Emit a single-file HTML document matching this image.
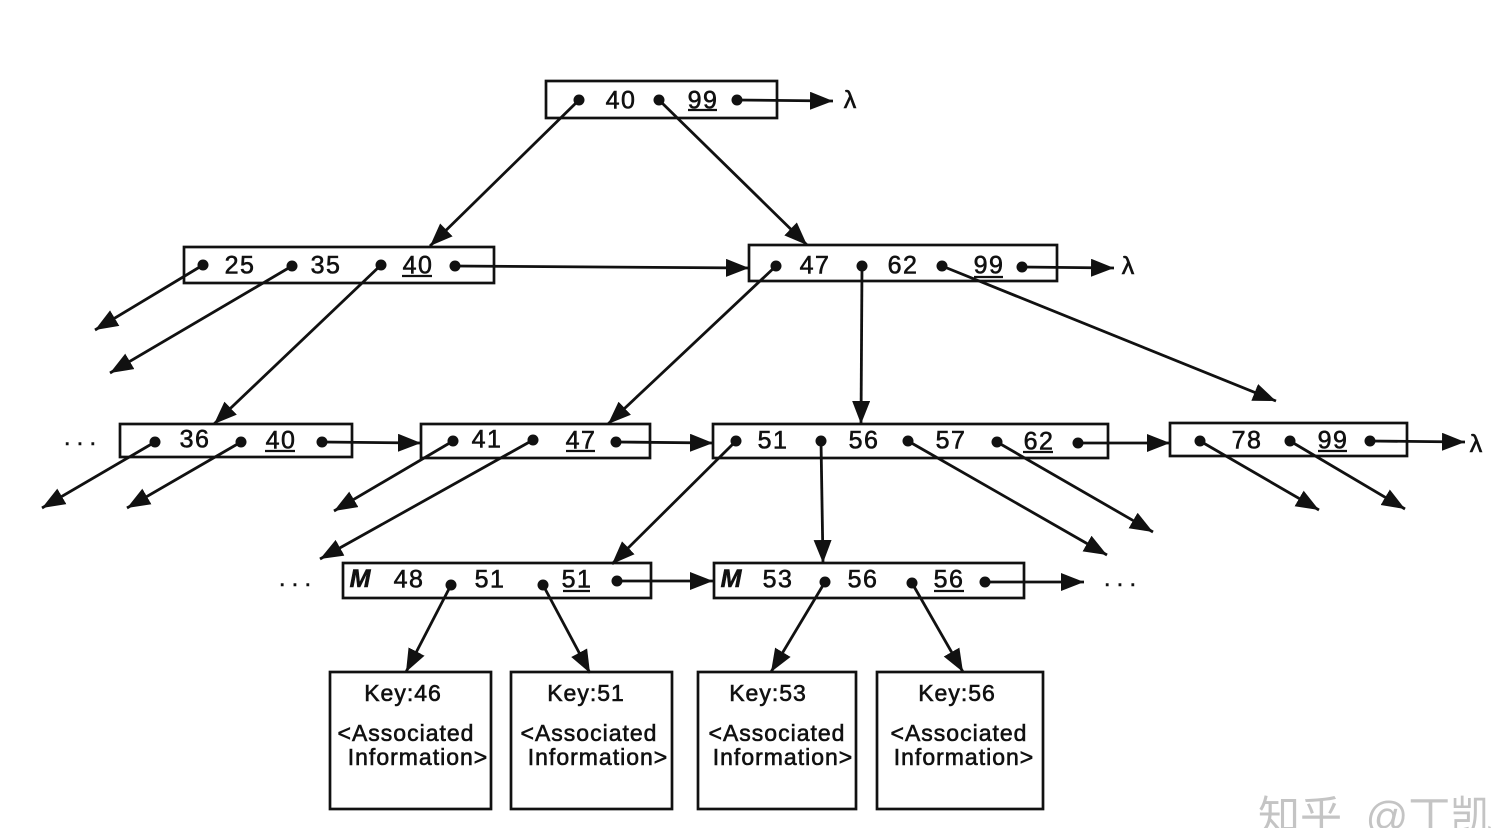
<!DOCTYPE html>
<html><head><meta charset="utf-8"><style>
html,body{margin:0;padding:0;background:#fff}
svg{display:block}
text{font-family:"Liberation Sans","Noto Sans CJK SC",sans-serif;fill:#111;stroke:#111;stroke-width:.6px;font-size:25px;text-anchor:middle;letter-spacing:1.5px}
.k{font-size:23px;letter-spacing:1px}
.m{font-style:italic;font-weight:bold;font-size:25px;letter-spacing:0}
.d{letter-spacing:0}
.b{fill:none;stroke:#111;stroke-width:2.7}
.l{stroke:#111;stroke-width:2.8;fill:none;marker-end:url(#a)}
.u{stroke:#111;stroke-width:2.2}
.w{font-size:42px;fill:#c4c4c4;stroke:none;text-anchor:start;letter-spacing:0;word-spacing:12px}
</style></head><body>
<svg width="1496" height="828" viewBox="0 0 1496 828" xmlns="http://www.w3.org/2000/svg">
<defs>
<marker id="a" markerUnits="userSpaceOnUse" markerWidth="26" markerHeight="20" refX="23" refY="9" orient="auto"><path d="M0 0L23 9L0 18Z" fill="#111"/></marker>
</defs>
<rect class="b" x="546" y="81" width="231" height="37"/>
<rect class="b" x="184" y="247" width="310" height="36"/>
<rect class="b" x="749" y="245" width="308" height="36"/>
<rect class="b" x="120" y="424" width="232" height="33"/>
<rect class="b" x="421" y="424" width="229" height="34"/>
<rect class="b" x="713" y="424" width="395" height="34"/>
<rect class="b" x="1170" y="423" width="237" height="33"/>
<rect class="b" x="343" y="563" width="308" height="35"/>
<rect class="b" x="714" y="563" width="310" height="35"/>
<rect class="b" x="330" y="672" width="161" height="137"/>
<rect class="b" x="511" y="672" width="161" height="137"/>
<rect class="b" x="698" y="672" width="158" height="137"/>
<rect class="b" x="877" y="672" width="166" height="137"/>
<g>
<line class="l" x1="737" y1="100" x2="833" y2="101"/>
<line class="l" x1="579" y1="100" x2="430" y2="246"/>
<line class="l" x1="659" y1="100" x2="807" y2="245"/>
<line class="l" x1="203" y1="265" x2="95" y2="330"/>
<line class="l" x1="292" y1="266" x2="110" y2="373"/>
<line class="l" x1="381" y1="265" x2="214" y2="424"/>
<line class="l" x1="455" y1="266" x2="749" y2="268"/>
<line class="l" x1="776" y1="266" x2="608" y2="424"/>
<line class="l" x1="862" y1="266" x2="861" y2="424"/>
<line class="l" x1="942" y1="266" x2="1276" y2="401"/>
<line class="l" x1="1022" y1="267" x2="1114" y2="268"/>
<line class="l" x1="155" y1="442" x2="42" y2="508"/>
<line class="l" x1="241" y1="442" x2="127" y2="508"/>
<line class="l" x1="322" y1="442" x2="421" y2="443"/>
<line class="l" x1="453" y1="441" x2="334" y2="511"/>
<line class="l" x1="533" y1="440" x2="320" y2="559"/>
<line class="l" x1="616" y1="442" x2="713" y2="443"/>
<line class="l" x1="736" y1="441" x2="612" y2="564"/>
<line class="l" x1="821" y1="441" x2="823" y2="563"/>
<line class="l" x1="908" y1="441" x2="1107" y2="555"/>
<line class="l" x1="997" y1="442" x2="1153" y2="532"/>
<line class="l" x1="1078" y1="443" x2="1170" y2="443"/>
<line class="l" x1="1200" y1="441" x2="1319" y2="510"/>
<line class="l" x1="1290" y1="441" x2="1405" y2="509"/>
<line class="l" x1="1370" y1="441" x2="1465" y2="442"/>
<line class="l" x1="451" y1="585" x2="406" y2="672"/>
<line class="l" x1="543" y1="585" x2="590" y2="673"/>
<line class="l" x1="617" y1="581" x2="713" y2="581"/>
<line class="l" x1="825" y1="582" x2="771" y2="672"/>
<line class="l" x1="912" y1="583" x2="963" y2="672"/>
<line class="l" x1="985" y1="582" x2="1084" y2="582"/>
</g>
<g fill="#111">
<circle cx="579" cy="100" r="5.5"/><circle cx="659" cy="100" r="5.5"/><circle cx="737" cy="100" r="5.5"/>
<circle cx="203" cy="265" r="5.5"/><circle cx="292" cy="266" r="5.5"/><circle cx="381" cy="265" r="5.5"/><circle cx="455" cy="266" r="5.5"/>
<circle cx="776" cy="266" r="5.5"/><circle cx="862" cy="266" r="5.5"/><circle cx="942" cy="266" r="5.5"/><circle cx="1022" cy="267" r="5.5"/>
<circle cx="155" cy="442" r="5.5"/><circle cx="241" cy="442" r="5.5"/><circle cx="322" cy="442" r="5.5"/>
<circle cx="453" cy="441" r="5.5"/><circle cx="533" cy="440" r="5.5"/><circle cx="616" cy="442" r="5.5"/>
<circle cx="736" cy="441" r="5.5"/><circle cx="821" cy="441" r="5.5"/><circle cx="908" cy="441" r="5.5"/><circle cx="997" cy="442" r="5.5"/><circle cx="1078" cy="443" r="5.5"/>
<circle cx="1200" cy="441" r="5.5"/><circle cx="1290" cy="441" r="5.5"/><circle cx="1370" cy="441" r="5.5"/>
<circle cx="451" cy="585" r="5.5"/><circle cx="543" cy="585" r="5.5"/><circle cx="617" cy="581" r="5.5"/>
<circle cx="825" cy="582" r="5.5"/><circle cx="912" cy="583" r="5.5"/><circle cx="985" cy="582" r="5.5"/>
</g>
<g transform="translate(1 0)">
<text x="620" y="108.5">40</text><text x="702" y="108.5">99</text>
<text x="239" y="273.5">25</text><text x="325" y="273.5">35</text><text x="417" y="273.5">40</text>
<text x="814" y="273.5">47</text><text x="902" y="273.5">62</text><text x="988" y="273.5">99</text>
<text x="194" y="447.5">36</text><text x="280" y="448.5">40</text>
<text x="486" y="447.5">41</text><text x="580" y="448.5">47</text>
<text x="772" y="448.5">51</text><text x="863" y="448.5">56</text><text x="950" y="448.5">57</text><text x="1038" y="449.5">62</text>
<text x="1246" y="448.5">78</text><text x="1332" y="448.5">99</text>
<text x="408" y="587.5">48</text><text x="489" y="587.5">51</text><text x="576" y="587.5">51</text>
<text x="777" y="587.5">53</text><text x="862" y="587.5">56</text><text x="948" y="587.5">56</text>
</g>
<text class="d" x="850" y="108" style="font-size:25px">λ</text>
<text class="d" x="1128" y="274" style="font-size:25px">λ</text>
<text class="d" x="1476" y="452" style="font-size:25px">λ</text>
<text class="m" x="360" y="587">M</text>
<text class="m" x="731" y="587">M</text>
<text class="d" x="80" y="445" style="font-size:23px">. . .</text>
<text class="d" x="295" y="586" style="font-size:23px">. . .</text>
<text class="d" x="1120" y="586" style="font-size:23px">. . .</text>
<g>
<line class="u" x1="688" y1="110" x2="717" y2="110"/>
<line class="u" x1="402" y1="276" x2="432" y2="276"/>
<line class="u" x1="974" y1="277" x2="1003" y2="277"/>
<line class="u" x1="265" y1="451" x2="295" y2="451"/>
<line class="u" x1="566" y1="451" x2="595" y2="451"/>
<line class="u" x1="1023" y1="452" x2="1053" y2="452"/>
<line class="u" x1="1318" y1="451" x2="1347" y2="451"/>
<line class="u" x1="563" y1="591" x2="590" y2="591"/>
<line class="u" x1="934" y1="591" x2="964" y2="591"/>
</g>
<g>
<text class="k" x="403" y="701">Key:46</text>
<text class="k" x="406" y="741">&lt;Associated</text>
<text class="k" x="418" y="765">Information&gt;</text>
<text class="k" x="586" y="701">Key:51</text>
<text class="k" x="589" y="741">&lt;Associated</text>
<text class="k" x="598" y="765">Information&gt;</text>
<text class="k" x="768" y="701">Key:53</text>
<text class="k" x="777" y="741">&lt;Associated</text>
<text class="k" x="783" y="765">Information&gt;</text>
<text class="k" x="957" y="701">Key:56</text>
<text class="k" x="959" y="741">&lt;Associated</text>
<text class="k" x="964" y="765">Information&gt;</text>
</g>
<text class="w" x="1258" y="831">知乎 @丁凯</text>
</svg>
</body></html>
